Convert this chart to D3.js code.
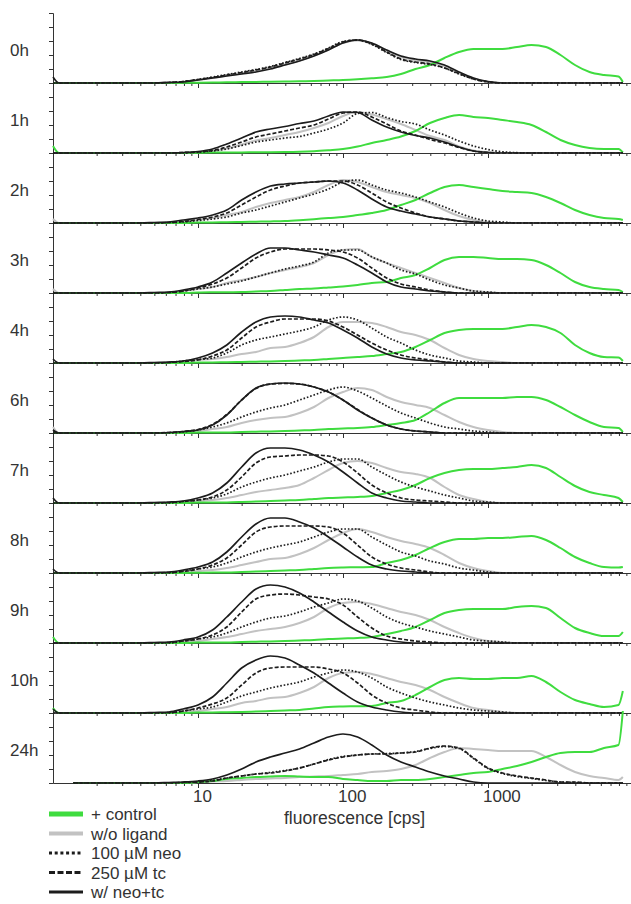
<!DOCTYPE html>
<html>
<head>
<meta charset="utf-8">
<script src="https://cdn.jsdelivr.net/npm/d3@7"></script>
<style>
  body { margin: 0; background: #fff; }
  svg { display: block; font-family: "Liberation Sans", Arial, sans-serif; }
</style>
</head>
<body>
<svg id="chart" width="631" height="904"></svg>
<script>
// Flow-cytometry histograms: one stacked panel per time point.
const timepoints = ["0h", "1h", "2h", "3h", "4h", "6h", "7h", "8h", "9h", "10h", "24h"];

// Fluorescence channels (cps) at which the histogram counts are sampled.
const fluorescence = [1, 1.1, 1.38, 2.5, 4, 5, 6.3, 7.9, 10, 12.6, 15.8, 20, 25.1, 31.6, 39.8, 50.1, 63.1, 79.4,
  100, 126, 158, 200, 251, 316, 398, 501, 631, 794, 1000, 1259, 1585, 1995, 2512, 3162, 3981, 5012, 6310, 7943, 8511];

const seriesNames = ["+ control", "w/o ligand", "100 µM neo", "250 µM tc", "w/ neo+tc"];
const tickLabels = [10, 100, 1000];
const axisTitle = "fluorescence [cps]";

// Counts per channel, one row per time point (null = no events recorded).
const control = [
  [0,0,0,0,0,0,0,2,3,5,7,9,11,13,15,17,20,25,30,38,48,60,90,140,180,250,310,340,340,340,360,380,360,280,180,110,80,65,10],
  [70,0,0,0,0,0,0,0,3,4,5,6,7,8,9,12,18,28,40,65,100,130,165,220,300,350,380,360,350,330,310,280,210,130,80,50,40,40,5],
  [0,0,0,0,0,0,0,0,5,6,7,10,13,16,20,28,38,50,60,80,100,130,180,230,300,360,380,360,340,320,310,300,260,200,130,80,50,40,30],
  [0,0,0,0,0,0,0,0,5,7,8,10,15,20,30,40,45,55,65,80,100,110,150,180,250,330,360,360,350,340,340,330,280,200,110,60,40,30,10],
  [0,0,0,0,0,0,0,0,5,6,7,10,13,16,20,25,30,40,50,60,70,90,110,160,230,300,330,340,340,340,360,380,360,300,180,100,60,55,20],
  [0,0,0,0,0,0,0,0,4,5,6,10,13,16,20,25,30,40,45,50,60,80,100,130,210,300,350,350,350,350,360,360,330,260,180,110,60,50,10],
  [0,0,0,0,0,0,0,0,4,5,6,10,15,20,25,30,40,50,55,60,70,100,130,180,250,300,330,340,340,350,360,380,350,260,170,110,80,50,10],
  [0,0,0,0,0,0,0,0,3,4,5,10,15,20,25,30,40,50,55,58,60,100,130,180,250,310,340,340,350,350,360,370,330,250,160,100,60,55,60],
  [60,0,0,0,0,0,0,0,4,5,6,10,13,16,20,25,30,40,45,50,60,90,120,160,230,300,330,340,340,340,360,370,350,250,150,100,70,70,110],
  [50,0,0,0,0,0,0,0,5,6,7,10,15,20,25,30,45,60,65,68,70,100,120,180,260,330,350,340,340,350,350,370,310,210,130,90,60,80,220],
  [null,null,0,0,0,0,0,0,10,20,40,50,60,65,70,65,60,60,40,30,20,20,30,30,40,60,80,100,110,140,170,210,260,300,310,310,350,380,720]
];

const noLigand = [
  [0,0,0,0,0,0,5,10,30,50,75,95,120,150,185,225,275,335,400,425,395,325,260,230,205,170,100,45,10,0,0,0,0,0,0,0,0,0,0],
  [0,0,0,0,0,0,0,0,10,20,45,85,125,150,180,210,250,300,370,410,385,340,290,230,170,130,65,25,8,0,0,0,0,0,0,0,0,0,0],
  [40,0,0,0,0,0,5,15,30,50,80,110,160,200,230,260,310,380,430,410,360,310,280,250,200,130,70,30,10,0,0,0,0,0,0,0,0,0,0],
  [40,0,0,0,0,0,5,20,40,60,100,130,160,200,230,260,300,380,430,440,360,300,250,200,150,100,50,20,10,0,0,0,0,0,0,0,0,0,0],
  [0,0,0,0,0,0,5,15,30,40,60,90,110,150,160,200,260,360,410,410,400,360,310,280,230,150,80,40,20,10,0,0,0,0,0,0,0,0,0],
  [60,0,0,0,0,0,0,10,20,40,60,100,130,150,160,200,260,350,410,450,430,360,310,280,250,180,110,60,30,10,0,0,0,0,0,0,0,0,0],
  [0,0,0,0,0,0,0,10,20,30,50,80,110,130,150,180,250,330,400,420,400,350,310,290,250,160,80,40,10,0,0,0,0,0,0,0,0,0,0],
  [0,0,0,0,0,0,0,10,20,30,50,80,110,140,150,190,250,330,400,440,410,360,320,290,250,180,100,50,20,0,0,0,0,0,0,0,0,0,0],
  [0,0,0,0,0,0,0,10,20,40,60,90,120,140,160,200,260,350,400,410,390,350,310,280,230,160,100,50,20,10,0,0,0,0,0,0,0,0,0],
  [0,0,0,0,0,0,0,10,20,40,60,100,120,150,160,200,260,350,400,410,390,350,310,280,230,160,100,50,30,10,0,0,0,0,0,0,0,0,0],
  [null,null,0,0,0,0,0,0,10,15,20,30,40,45,50,60,65,70,80,90,110,120,140,180,250,310,350,340,330,320,320,320,260,180,110,70,50,30,60]
];

const neo100 = [
  [0,0,0,0,0,0,5,15,35,60,85,110,135,165,205,245,290,350,415,430,385,305,235,205,185,150,90,40,10,0,0,0,0,0,0,0,0,0,0],
  [0,0,0,0,0,0,0,0,10,20,40,75,110,130,150,165,200,240,300,395,405,355,315,290,230,180,120,70,35,12,3,0,0,0,0,0,0,0,0],
  [0,0,0,0,0,0,5,10,25,40,60,100,130,170,210,250,290,340,410,430,380,330,300,260,210,160,100,50,20,10,0,0,0,0,0,0,0,0,0],
  [0,0,0,0,0,0,5,20,40,60,90,120,160,200,240,270,310,400,430,430,360,300,230,190,130,80,50,20,10,0,0,0,0,0,0,0,0,0,0],
  [0,0,0,0,0,0,5,20,35,50,100,180,230,260,290,320,360,430,460,430,350,260,200,130,80,50,20,10,0,0,0,0,0,0,0,0,0,0,0],
  [0,0,0,0,0,0,0,10,30,60,100,160,210,250,280,330,380,430,460,420,350,270,200,150,100,60,40,20,10,0,0,0,0,0,0,0,0,0,0],
  [0,0,0,0,0,0,0,15,30,50,90,160,210,250,280,320,360,410,440,440,360,280,210,160,120,80,50,20,10,0,0,0,0,0,0,0,0,0,0],
  [0,0,0,0,0,0,0,20,40,60,100,160,210,250,280,310,360,410,440,440,360,280,210,170,120,90,50,30,10,0,0,0,0,0,0,0,0,0,0],
  [0,0,0,0,0,0,0,20,40,60,100,160,210,250,270,310,360,400,440,420,350,260,200,160,120,90,60,30,20,10,0,0,0,0,0,0,0,0,0],
  [0,0,0,0,0,0,0,20,40,60,110,170,210,250,280,310,360,400,430,410,350,260,200,150,110,80,50,30,20,10,0,0,0,0,0,0,0,0,0],
  [null,null,0,0,0,0,0,5,10,25,50,70,90,105,125,150,190,235,265,280,290,295,300,315,345,365,345,245,145,95,65,45,25,10,5,0,0,0,0]
];

const tc250 = [
  [0,0,0,0,0,0,5,15,35,55,80,105,130,160,200,240,285,345,410,430,390,310,240,210,190,150,95,40,12,0,0,0,0,0,0,0,0,0,0],
  [0,0,0,0,0,0,0,5,10,25,60,110,160,190,220,250,280,340,400,410,360,290,220,180,135,100,55,20,5,0,0,0,0,0,0,0,0,0,0],
  [0,0,0,0,0,0,5,15,35,60,100,180,260,330,370,400,410,420,420,380,300,210,150,100,60,40,20,10,0,0,0,0,0,0,0,0,0,0,0],
  [0,0,0,0,0,0,5,20,50,90,150,250,350,410,440,440,440,430,410,350,250,150,90,60,30,10,0,0,0,0,0,0,0,0,0,0,0,0,0],
  [0,0,0,0,0,0,5,15,30,70,130,250,360,410,440,440,440,420,360,280,200,130,80,50,30,10,0,0,0,0,0,0,0,0,0,0,0,0,0],
  [0,0,0,0,0,0,5,15,35,85,185,330,445,490,495,490,460,410,330,235,150,80,40,20,10,0,0,0,0,0,0,0,0,0,0,0,0,0,0],
  [0,0,0,0,0,0,5,15,30,60,130,260,400,460,470,480,480,470,410,300,180,100,50,30,20,10,0,0,0,0,0,0,0,0,0,0,0,0,0],
  [0,0,0,0,0,0,5,15,40,80,150,280,410,460,470,470,470,460,400,280,160,90,50,30,10,0,0,0,0,0,0,0,0,0,0,0,0,0,0],
  [0,0,0,0,0,0,5,20,40,80,160,310,440,480,490,480,460,440,380,260,150,70,40,20,10,0,0,0,0,0,0,0,0,0,0,0,0,0,0],
  [0,0,0,0,0,0,5,20,50,90,150,280,400,450,460,460,460,440,400,300,180,100,50,30,10,0,0,0,0,0,0,0,0,0,0,0,0,0,0],
  [null,null,0,0,0,0,0,5,10,20,50,70,90,100,120,150,190,230,260,280,290,290,300,310,350,370,350,250,150,100,70,50,30,10,10,0,0,0,0]
];

const neoTc = [
  [60,0,0,0,0,0,5,10,30,50,70,90,110,140,180,220,270,330,400,430,400,330,270,240,220,180,110,50,15,0,0,0,0,0,0,0,0,0,0],
  [0,0,0,0,0,0,0,5,15,40,90,150,210,240,265,295,320,370,410,405,330,260,210,175,150,110,60,20,5,0,0,0,0,0,0,0,0,0,0],
  [0,0,0,0,0,5,10,30,50,80,130,230,310,370,390,400,410,420,400,330,240,160,120,90,60,40,20,10,0,0,0,0,0,0,0,0,0,0,0],
  [0,0,0,0,0,5,10,30,60,110,200,300,390,450,450,430,410,380,350,280,200,110,60,40,20,10,0,0,0,0,0,0,0,0,0,0,0,0,0],
  [40,0,0,0,0,5,10,20,50,100,180,310,410,460,470,460,430,400,330,250,160,90,50,30,20,10,0,0,0,0,0,0,0,0,0,0,0,0,0],
  [30,0,0,0,0,0,5,15,30,80,180,330,450,490,500,490,460,410,330,230,150,80,40,20,10,0,0,0,0,0,0,0,0,0,0,0,0,0,0],
  [50,0,0,0,0,5,10,20,50,100,200,360,500,550,550,530,480,410,310,200,100,50,20,10,0,0,0,0,0,0,0,0,0,0,0,0,0,0,0],
  [40,0,0,0,0,5,10,30,60,110,210,360,490,550,550,510,450,360,260,160,80,40,20,10,0,0,0,0,0,0,0,0,0,0,0,0,0,0,0],
  [0,0,0,0,0,5,10,30,60,130,260,410,540,580,560,500,410,310,210,120,60,30,10,0,0,0,0,0,0,0,0,0,0,0,0,0,0,0,0],
  [40,0,0,0,0,5,10,40,80,160,300,450,530,570,550,480,400,300,200,110,60,30,10,0,0,0,0,0,0,0,0,0,0,0,0,0,0,0,0],
  [null,null,0,0,0,0,5,10,20,40,80,140,210,260,300,340,400,460,490,460,380,280,210,160,110,70,40,10,0,0,0,0,0,0,0,0,0,0,0]
];

// Line styles for each condition (drawing order: grey, green, dotted, dashed, solid).
const styles = {
  "w/o ligand": { data: noLigand, color: "#c2c2c2", width: 2,   dash: null,      lw: 4,   ldash: null },
  "+ control":  { data: control,  color: "#3fdc3f", width: 2,   dash: null,      lw: 5,   ldash: null },
  "100 µM neo": { data: neo100,   color: "#1c1c1c", width: 1.7, dash: "1.6,1.9", lw: 3.2, ldash: "3,2.7" },
  "250 µM tc":  { data: tc250,    color: "#1c1c1c", width: 1.7, dash: "4,2",     lw: 3,   ldash: "6,2.5" },
  "w/ neo+tc":  { data: neoTc,    color: "#1c1c1c", width: 1.7, dash: null,      lw: 3,   ldash: null }
};
const drawOrder = ["w/o ligand", "+ control", "100 µM neo", "250 µM tc", "w/ neo+tc"];

const svg = d3.select("#chart");
const ink = "#333";

const x = d3.scaleLog().domain([1, 10000]).range([53, 633]);
const band = d3.scaleBand().domain(timepoints).range([13, 783]);
const h = band.bandwidth();
const counts = d3.scaleLinear().domain([0, 700]).range([h, 0]);

// continuous y axis down the left side, one tick per 140 counts
const yAll = d3.scaleLinear().domain([0, timepoints.length * 5]).range([783, 13]);
svg.append("g")
  .attr("transform", `translate(${x(1)},0)`)
  .call(d3.axisLeft(yAll).tickValues(d3.range(0, timepoints.length * 5 + 1)).tickSize(4).tickFormat(""))
  .call(g => g.selectAll("path,line").attr("stroke", ink).attr("stroke-width", 1));

const minorTicks = [];
[1, 10, 100, 1000].forEach(p => d3.range(2, 10).forEach(m => minorTicks.push(m * p)));

const line = d3.line()
  .defined(d => d[1] != null)
  .x(d => x(d[0]))
  .y(d => counts(d[1]))
  .curve(d3.curveMonotoneX);

timepoints.forEach((t, i) => {
  const g = svg.append("g").attr("transform", `translate(0,${band(t)})`);

  // baseline axis with log ticks
  g.append("g").attr("transform", `translate(0,${h})`)
    .call(d3.axisBottom(x).tickValues(minorTicks).tickSize(3).tickSizeOuter(0).tickFormat(""))
    .call(a => a.selectAll("path,line").attr("stroke", ink).attr("stroke-width", 1));
  g.append("g").attr("transform", `translate(0,${h})`)
    .call(d3.axisBottom(x).tickValues(tickLabels).tickSize(5).tickFormat(""))
    .call(a => a.select("path").remove())
    .call(a => a.selectAll("line").attr("stroke", ink).attr("stroke-width", 1));

  drawOrder.forEach(name => {
    const s = styles[name];
    const pts = fluorescence.map((f, j) => [f, s.data[i][j]]);
    g.append("path")
      .attr("d", line(pts))
      .attr("fill", "none")
      .attr("stroke", s.color)
      .attr("stroke-width", s.width)
      .attr("stroke-dasharray", s.dash)
      .attr("stroke-linejoin", "round");
  });

  g.append("text")
    .attr("x", 10).attr("y", h - 27)
    .attr("font-size", 17).attr("fill", ink)
    .text(t);
});

// tick labels under the last panel
svg.selectAll("text.tick-label").data(tickLabels).join("text")
  .attr("class", "tick-label")
  .attr("x", d => x(d) - 5).attr("y", 802)
  .attr("font-size", 17).attr("fill", ink)
  .text(d => d);

svg.append("text")
  .attr("x", 284).attr("y", 824)
  .attr("font-size", 17.5).attr("fill", ink)
  .text(axisTitle);

// legend
const legend = svg.append("g").attr("transform", "translate(49,814)");
seriesNames.forEach((name, k) => {
  const s = styles[name];
  const row = legend.append("g").attr("transform", `translate(0,${k * 19.5})`);
  row.append("line")
    .attr("x1", 0).attr("x2", 34).attr("y1", 0).attr("y2", 0)
    .attr("stroke", s.color).attr("stroke-width", s.lw)
    .attr("stroke-dasharray", s.ldash);
  row.append("text")
    .attr("x", 42).attr("y", 6)
    .attr("font-size", 17).attr("fill", ink)
    .text(name);
});
</script>
</body>
</html>
